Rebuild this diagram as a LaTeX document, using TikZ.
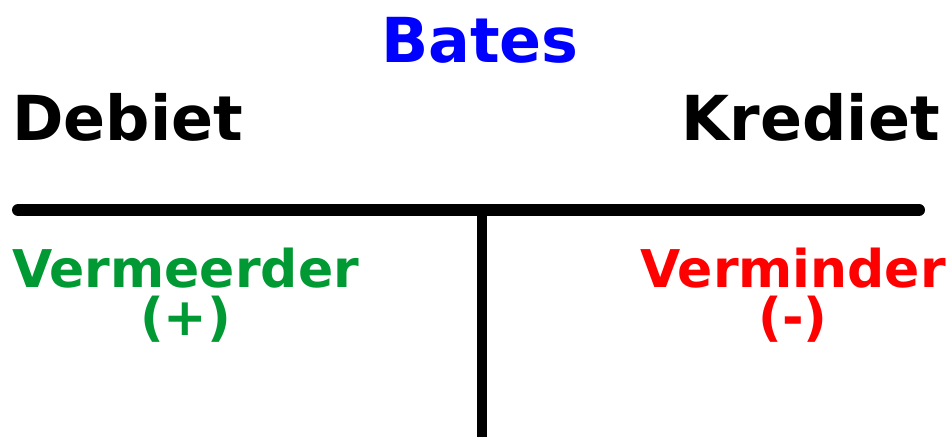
\documentclass[tikz,border=0pt]{standalone}
\usepackage{fontspec}
\setmainfont{DejaVu Sans}
\definecolor{groen}{RGB}{0,153,51}

\tikzset{
  kop/.style={inner sep=0pt, font=\bfseries\fontsize{62}{62}\selectfont},
  post/.style={inner sep=0pt, font=\bfseries\fontsize{52}{52}\selectfont},
}

\begin{document}
\begin{tikzpicture}[x=1pt, y=-1pt]
	\useasboundingbox (0, 0) rectangle (952, 437);
	\node[kop, text=blue, anchor=base] (titel) at (480, 62) {Bates};
	\node[kop, anchor=base west] (debiet) at (12, 140) {Debiet};
	\node[kop, anchor=base east] (krediet) at (940, 140) {Krediet};

	\coordinate (links) at (18, 210);
	\coordinate (rechts) at (919, 210);
	\coordinate (midden) at (482, 210);
	\coordinate (onder) at (482, 437);
	\draw[line width=12pt, line cap=round] (links) -- (rechts);
	\draw[line width=10pt] (midden) -- (onder);

	\node[post, text=groen, anchor=base west] (verm) at (12, 287) {Vermeerder};
	\node[post, text=groen, anchor=base] (plus) at ([yshift=-48pt]verm.base) {(+)};
	\node[post, text=red, anchor=base east] (vermin) at (946, 287) {Verminder};
	\node[post, text=red, anchor=base] (min) at ([yshift=-48pt]vermin.base) {(-)};
\end{tikzpicture}
\end{document}
